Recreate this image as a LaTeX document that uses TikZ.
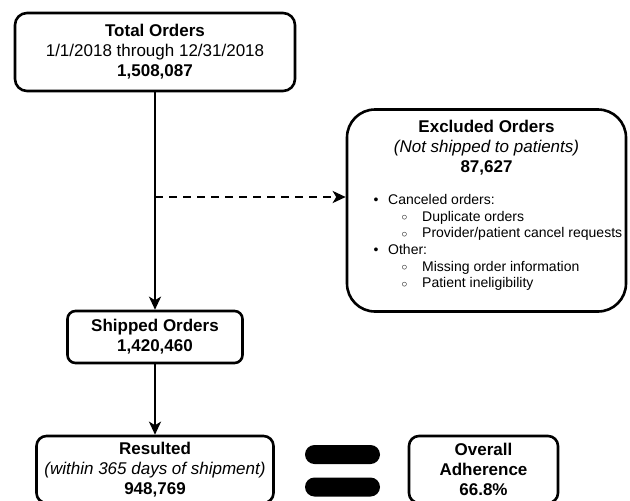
\documentclass[tikz,border=0pt]{standalone}
\usepackage{fontspec}
\setmainfont{Liberation Sans}
\usetikzlibrary{arrows.meta}

\newcommand{\subitm}{\hspace*{28pt}\makebox[20.5pt][l]{\raisebox{0.5pt}{\scalebox{0.8}{$\circ$}}}}

\begin{document}
\begin{tikzpicture}[x=1pt, y=-1pt,
	every node/.style={font=\fontsize{17}{20}\selectfont, align=center},
	box/.style={draw, line width=2.6pt, rounded corners=10pt, inner sep=0pt},
	bar/.style={fill, rounded corners=9.5pt, minimum width=75pt, minimum height=19pt, inner sep=0pt},
	flow/.style={line width=2.6pt, -{Stealth[length=13pt, width=12pt, inset=3.5pt]}}]
	\useasboundingbox (0,0) rectangle (630,501);
	\node[box, minimum width=280pt, minimum height=78pt, rounded corners=12pt] (total) at (155,52)
		{\textbf{Total Orders}\\1/1/2018 through 12/31/2018\\\textbf{1,508,087}};
	\node[box, minimum width=279pt, minimum height=202pt, rounded corners=28pt] (excl) at (486.5,210.5) {};
	\node (excltitle) at (486.5,147.5)
		{\textbf{Excluded Orders}\\\textit{(Not shipped to patients)}\\\textbf{87,627}};
	\node[anchor=west, align=left, inner sep=0pt, font=\fontsize{14}{16.6}\selectfont] (reasons) at (373.5,242.5)
		{\makebox[14.5pt][l]{\textbullet}Canceled orders:\\
		\subitm Duplicate orders\\
		\subitm Provider/patient cancel requests\\
		\makebox[14.5pt][l]{\textbullet}Other:\\
		\subitm Missing order information\\
		\subitm Patient ineligibility};
	\node[box, minimum width=175pt, minimum height=52pt, rounded corners=8pt] (shipped) at (155,337)
		{\textbf{Shipped Orders}\\\textbf{1,420,460}};
	\node[box, minimum width=237pt, minimum height=67pt] (resulted) at (155,469.5)
		{\textbf{Resulted}\\\textit{(within 365 days of shipment)}\\\textbf{948,769}};
	\node[bar] (eqtop) at (342.5,454.5) {};
	\node[bar] (eqbot) at (342.5,487) {};
	\node[box, minimum width=149pt, minimum height=67pt] (overall) at (483.5,469.5)
		{\textbf{Overall}\\\textbf{Adherence}\\\textbf{66.8\%}};
	\coordinate (split) at (155,197);
	\draw[flow] (total) -- (shipped);
	\draw[flow, dash pattern=on 8pt off 6pt] (split) -- (split -| excl.west);
	\draw[flow] (shipped) -- (resulted);
\end{tikzpicture}
\end{document}
